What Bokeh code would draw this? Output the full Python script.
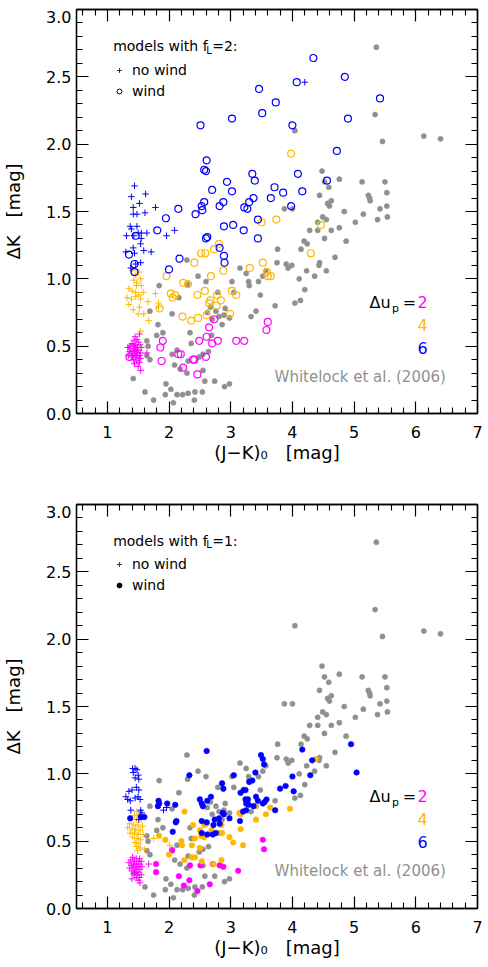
from bokeh.plotting import figure
from bokeh.models import (Range1d, LinearAxis, FixedTicker, Label, Legend, LegendItem,
                          PrintfTickFormatter)
from bokeh.layouts import column
from bokeh.embed import file_html
from bokeh.resources import INLINE

FONT = "DejaVu Sans"

# ---------------- data ----------------
X_MAJOR = [1, 2, 3, 4, 5, 6, 7]
X_MINOR = [0.6, 0.8, 1.2, 1.4, 1.6, 1.8, 2.2, 2.4, 2.6, 2.8, 3.2, 3.4, 3.6, 3.8,
           4.2, 4.4, 4.6, 4.8, 5.2, 5.4, 5.6, 5.8, 6.2, 6.4, 6.6, 6.8]
Y_MAJOR = [0, 0.5, 1.0, 1.5, 2.0, 2.5, 3.0]
Y_MINOR = [0.1, 0.2, 0.3, 0.4, 0.6, 0.7, 0.8, 0.9, 1.1, 1.2, 1.3, 1.4, 1.6, 1.7,
           1.8, 1.9, 2.1, 2.2, 2.3, 2.4, 2.6, 2.7, 2.8, 2.9]

DU_LABELS = ["2", "4", "6"]
DU_COLORS = ["#FF00FF", "#FFB800", "#0000FF"]
GREY = "#909090"

# Whitelock et al. (2006) observations
WHITELOCK = [
    (5.36, 2.72), (5.34, 2.22), (4.04, 2.10), (5.46, 2.02), (6.13, 2.06), (6.40, 2.04),
    (4.48, 1.80), (4.52, 1.72), (4.76, 1.74), (5.13, 1.72), (5.50, 1.72), (4.59, 1.68),
    (4.44, 1.62), (5.23, 1.62), (5.25, 1.60), (5.26, 1.58), (5.53, 1.64), (4.63, 1.58),
    (4.57, 1.56), (4.60, 1.54), (5.53, 1.54), (5.42, 1.52), (3.87, 1.52), (4.00, 1.52),
    (4.84, 1.50), (5.15, 1.48), (4.49, 1.46), (4.55, 1.44), (4.41, 1.42), (5.38, 1.44),
    (5.54, 1.46), (5.02, 1.42), (4.76, 1.38), (4.28, 1.36), (4.41, 1.36), (4.63, 1.36),
    (4.52, 1.30), (4.19, 1.28), (4.24, 1.26), (4.87, 1.28), (3.76, 1.22), (4.14, 1.22),
    (3.75, 1.12), (3.93, 1.08), (3.99, 1.10), (4.43, 1.10), (4.44, 1.12), (4.69, 1.16),
    (4.23, 1.06), (4.55, 1.06), (4.36, 1.02), (3.25, 1.04), (3.29, 0.98), (3.30, 0.95),
    (3.45, 0.98), (3.52, 1.02), (3.57, 1.06), (4.11, 1.00), (4.20, 0.92), (3.48, 0.88),
    (4.04, 0.82), (4.13, 0.84), (3.72, 0.80), (3.41, 0.76), (3.33, 0.72),
    (2.29, 1.14), (2.47, 1.02), (2.60, 0.98), (3.15, 1.08), (3.02, 0.98), (1.84, 0.95),
    (2.30, 0.96), (3.90, 1.11),
    (2.16, 0.86), (1.69, 0.76), (2.05, 0.74), (1.82, 0.66), (1.90, 0.60), (1.80, 0.58),
    (2.34, 0.60), (1.64, 0.54), (1.66, 0.50), (2.36, 0.52), (1.64, 0.43), (1.69, 0.40),
    (2.05, 0.44), (2.13, 0.47), (2.09, 0.36), (2.31, 0.39), (2.49, 0.42), (2.55, 0.44),
    (2.64, 0.46), (2.69, 0.58), (2.86, 0.66), (2.81, 0.72), (2.89, 0.73), (2.67, 0.79),
    (2.76, 0.76), (2.91, 0.78), (2.18, 0.33), (2.29, 0.30), (2.55, 0.32),
    (1.42, 0.26), (1.61, 0.16), (1.75, 0.10), (1.95, 0.22), (2.03, 0.18), (1.94, 0.14),
    (2.13, 0.14), (2.22, 0.14), (2.07, 0.08), (2.31, 0.15), (2.41, 0.10), (2.42, 0.16),
    (2.54, 0.16), (2.58, 0.24), (2.74, 0.24), (2.90, 0.20), (2.98, 0.22),
    (2.79, 0.90), (3.05, 0.90), (2.62, 0.75), (2.70, 0.70), (2.98, 0.71),
]

# ---- models with f_L = 2 (top panel) ----
F2_NOWIND_DU2 = [
    (1.52, 0.59), (1.45, 0.57), (1.48, 0.55), (1.43, 0.54), (1.50, 0.53), (1.40, 0.52),
    (1.46, 0.51), (1.53, 0.51), (1.38, 0.50), (1.44, 0.50), (1.49, 0.49), (1.55, 0.49),
    (1.33, 0.49), (1.42, 0.48), (1.47, 0.47), (1.51, 0.47), (1.36, 0.46), (1.45, 0.46),
    (1.40, 0.45), (1.49, 0.45), (1.54, 0.45), (1.64, 0.45), (1.43, 0.44), (1.47, 0.43),
    (1.34, 0.43), (1.52, 0.43), (1.39, 0.42), (1.45, 0.42), (1.50, 0.41), (1.42, 0.40),
    (1.54, 0.41), (1.47, 0.39), (1.52, 0.38), (1.44, 0.37), (1.50, 0.35), (1.54, 0.32),
]
F2_WIND_DU2 = [
    (1.40, 0.49), (1.36, 0.42), (1.86, 0.49), (1.90, 0.54), (1.88, 0.39), (2.15, 0.44),
    (2.19, 0.44), (2.23, 0.34), (2.39, 0.40), (2.41, 0.40), (2.46, 0.29), (2.60, 0.42),
    (2.49, 0.54), (2.61, 0.57), (2.65, 0.64), (2.73, 0.70), (2.70, 0.52), (2.79, 0.54),
    (3.09, 0.54), (3.22, 0.54), (3.60, 0.68), (3.58, 0.62),
]
F2_NOWIND_DU4 = [
    (1.40, 1.06), (1.46, 1.03), (1.51, 1.05), (1.43, 0.99), (1.48, 0.97), (1.54, 1.00),
    (1.47, 0.95), (1.55, 0.95), (1.35, 0.93), (1.40, 0.91), (1.46, 0.90), (1.51, 0.88),
    (1.58, 0.90), (1.32, 0.86), (1.39, 0.85), (1.46, 0.87), (1.54, 0.85), (1.66, 0.83),
    (1.78, 0.89), (1.83, 0.82), (1.35, 0.81), (1.42, 0.77), (1.52, 0.79), (1.59, 0.74),
    (1.67, 0.69), (1.54, 0.61), (1.50, 0.74), (1.83, 0.79),
]
F2_WIND_DU4 = [
    (3.50, 1.42), (3.74, 1.44), (2.81, 1.26), (2.73, 1.22), (2.52, 1.19), (2.59, 1.19),
    (2.41, 1.12), (2.88, 1.06), (3.31, 1.08), (3.52, 1.12), (3.59, 1.05), (3.60, 1.02),
    (3.65, 1.02), (1.96, 1.02), (2.68, 1.02), (2.23, 0.97), (2.31, 0.96), (3.98, 1.93),
    (4.46, 1.40), (4.30, 1.19), (2.03, 0.89), (2.10, 0.88), (2.06, 0.86), (2.46, 0.88),
    (2.58, 0.91), (2.78, 0.88), (2.67, 0.84), (2.65, 0.82), (2.84, 0.84), (2.77, 0.80),
    (3.02, 0.91), (3.09, 0.88), (1.85, 0.78), (2.22, 0.72), (2.36, 0.69), (2.47, 0.71),
    (2.61, 0.73), (2.99, 0.74),
]
F2_NOWIND_DU6 = [
    (1.44, 1.69), (1.39, 1.61), (1.62, 1.63), (1.52, 1.56), (1.42, 1.53), (1.42, 1.48),
    (1.48, 1.48), (1.61, 1.49), (1.78, 1.53), (1.37, 1.39), (1.39, 1.37), (1.48, 1.39),
    (1.31, 1.32), (1.50, 1.34), (1.55, 1.34), (1.64, 1.34), (1.43, 1.32), (1.96, 1.32),
    (2.09, 1.36), (1.55, 1.30), (1.54, 1.26), (1.42, 1.23), (1.59, 1.21), (1.71, 1.20),
    (1.30, 1.20), (1.44, 1.19), (1.38, 1.08), (1.54, 1.12), (1.46, 1.11), (4.20, 2.46),
]
F2_WIND_DU6 = [
    (2.61, 1.88), (2.57, 1.81), (2.60, 1.80), (3.35, 1.78), (3.39, 1.73), (2.94, 1.72),
    (2.70, 1.66), (3.02, 1.65), (3.71, 1.68), (3.85, 1.64), (3.65, 1.60), (3.37, 1.60),
    (3.30, 1.57), (2.88, 1.57), (2.57, 1.57), (2.53, 1.54), (2.54, 1.51), (2.82, 1.54),
    (3.22, 1.53), (3.27, 1.52), (2.43, 1.48), (2.15, 1.52), (1.95, 1.45), (3.44, 1.44),
    (2.89, 1.39), (3.04, 1.40), (3.21, 1.36), (1.81, 1.36), (1.46, 1.32), (2.62, 1.31),
    (2.60, 1.30), (3.44, 1.30), (2.82, 1.23), (2.89, 1.17), (2.90, 1.12), (2.17, 1.15),
    (1.35, 1.18), (1.44, 1.11), (2.00, 1.07), (1.44, 1.05),
    (2.51, 2.14), (3.02, 2.19), (4.34, 2.64), (4.85, 2.50), (4.07, 2.46), (3.46, 2.41),
    (3.73, 2.31), (5.42, 2.34), (3.51, 2.23), (4.90, 2.19), (4.00, 2.14), (4.72, 1.95),
    (4.09, 1.78), (4.56, 1.73), (4.16, 1.65), (3.98, 1.54),
]

# ---- models with f_L = 1 (bottom panel) ----
F1_NOWIND_DU2 = [
    (1.41, 0.38), (1.47, 0.37), (1.52, 0.37), (1.38, 0.36), (1.44, 0.35), (1.50, 0.35),
    (1.55, 0.35), (1.35, 0.34), (1.42, 0.33), (1.47, 0.33), (1.53, 0.33), (1.67, 0.33),
    (1.39, 0.32), (1.45, 0.31), (1.50, 0.31), (1.56, 0.31), (1.36, 0.30), (1.42, 0.30),
    (1.48, 0.29), (1.53, 0.29), (1.40, 0.28), (1.46, 0.27), (1.51, 0.27), (1.44, 0.26),
    (1.49, 0.25), (1.55, 0.25), (1.47, 0.23), (1.52, 0.23), (1.40, 0.22), (1.50, 0.21),
    (1.53, 0.19),
]
F1_WIND_DU2 = [
    (1.79, 0.33), (1.79, 0.27), (2.05, 0.43), (2.16, 0.24), (2.24, 0.17), (2.33, 0.21),
    (2.34, 0.32), (2.46, 0.13), (2.51, 0.32), (2.66, 0.18), (2.71, 0.33), (2.82, 0.32),
    (2.88, 0.31), (3.12, 0.28), (3.52, 0.51), (3.54, 0.44),
]
F1_NOWIND_DU4 = [
    (1.48, 0.72), (1.52, 0.70), (1.44, 0.69), (1.40, 0.66), (1.47, 0.66), (1.55, 0.66),
    (1.36, 0.63), (1.43, 0.62), (1.50, 0.62), (1.57, 0.61), (1.33, 0.60), (1.40, 0.59),
    (1.46, 0.59), (1.53, 0.58), (1.37, 0.56), (1.44, 0.56), (1.50, 0.55), (1.58, 0.55),
    (1.41, 0.53), (1.48, 0.52), (1.54, 0.51), (1.45, 0.49), (1.51, 0.48), (1.47, 0.46),
    (1.53, 0.45), (1.60, 0.44), (1.49, 0.43), (1.75, 0.52), (2.01, 0.47),
]
F1_WIND_DU4 = [
    (2.25, 0.72), (2.50, 0.58), (2.57, 0.62), (2.61, 0.63), (2.69, 0.58), (2.85, 0.62),
    (2.81, 0.56), (2.86, 0.56), (3.16, 0.70), (3.16, 0.59), (2.98, 0.53), (3.20, 0.47),
    (1.84, 0.54), (1.94, 0.51), (2.00, 0.40), (2.20, 0.50), (2.21, 0.47), (2.42, 0.52),
    (2.37, 0.47), (2.50, 0.45), (2.37, 0.38), (2.42, 0.38), (2.53, 0.35), (2.85, 0.36),
    (2.72, 0.33), (2.39, 0.62), (2.52, 0.54), (2.57, 0.53), (3.04, 0.49), (3.41, 0.66),
    (3.57, 0.70), (3.64, 0.75), (3.14, 0.71), (2.25, 0.36), (4.38, 1.11), (3.96, 0.74),
    (3.39, 0.76),
]
F1_NOWIND_DU6 = [
    (1.41, 1.04), (1.45, 1.04), (1.48, 1.03), (1.42, 1.01), (1.50, 0.99), (1.45, 0.97),
    (1.51, 0.96), (1.35, 0.87), (1.40, 0.88), (1.47, 0.90), (1.51, 0.88), (1.30, 0.83),
    (1.33, 0.81), (1.37, 0.80), (1.45, 0.82), (1.50, 0.83), (1.53, 0.81), (1.38, 0.73),
    (1.54, 0.73), (1.56, 0.71), (1.51, 0.66), (1.91, 0.73), (1.96, 0.75),
]
F1_WIND_DU6 = [
    (2.61, 1.17), (2.33, 0.99), (3.05, 0.99), (1.84, 0.78), (1.83, 0.80), (1.82, 0.76),
    (1.97, 0.78), (2.10, 0.77), (2.50, 0.81), (2.53, 0.78), (2.55, 0.76), (2.62, 0.80),
    (2.68, 0.83), (2.86, 0.93), (2.88, 0.89), (3.16, 0.86), (3.21, 0.88), (3.28, 0.81),
    (3.25, 0.78), (3.30, 0.94), (1.37, 0.67), (1.54, 0.68), (1.60, 0.68), (2.11, 0.64),
    (2.12, 0.65), (2.06, 0.57), (2.53, 0.65), (2.53, 0.56), (2.61, 0.64), (2.74, 0.66),
    (2.81, 0.67), (2.72, 0.62), (2.71, 0.55), (2.62, 0.55), (2.87, 0.71), (2.89, 0.70),
    (2.98, 0.67), (3.15, 0.65), (3.20, 0.72), (2.76, 0.56), (2.82, 0.63),
    (4.16, 1.18), (4.95, 1.22), (5.04, 1.01), (3.49, 1.14), (3.52, 1.11), (3.54, 1.07),
    (3.40, 1.01), (3.35, 0.95), (4.32, 1.10), (4.29, 0.99), (4.00, 0.98), (3.89, 0.91),
    (3.80, 0.89), (4.02, 0.87), (3.24, 0.88), (3.41, 0.83), (3.24, 0.81), (3.58, 0.81),
    (3.55, 0.79), (3.52, 0.78), (3.29, 0.77), (3.37, 0.76), (3.44, 0.80), (3.25, 0.73),
    (3.72, 0.73),
]

PANELS = [
    dict(fl="2", nowind=[F2_NOWIND_DU2, F2_NOWIND_DU4, F2_NOWIND_DU6],
         wind=[F2_WIND_DU2, F2_WIND_DU4, F2_WIND_DU6], filled=False,
         height=480, top=9, bottom=67),
    dict(fl="1", nowind=[F1_NOWIND_DU2, F1_NOWIND_DU4, F1_NOWIND_DU6],
         wind=[F1_WIND_DU2, F1_WIND_DU4, F1_WIND_DU6], filled=True,
         height=480, top=24, bottom=51),
]


def xs(pairs):
    return [a for a, b in pairs]


def ys(pairs):
    return [b for a, b in pairs]


def style_axis(ax, show_labels):
    ax.major_tick_in = 12
    ax.major_tick_out = 0
    ax.minor_tick_in = 6
    ax.minor_tick_out = 0
    ax.axis_line_width = 1.3
    ax.major_tick_line_width = 1.2
    ax.minor_tick_line_width = 1.1
    ax.axis_line_color = "black"
    ax.major_tick_line_color = "black"
    ax.minor_tick_line_color = "black"
    if show_labels:
        ax.major_label_text_font = FONT
        ax.major_label_text_font_size = "16px"
        ax.major_label_text_color = "black"
    else:
        ax.major_label_text_font_size = "0px"
        ax.major_label_text_alpha = 0
        ax.major_label_standoff = 0


def make_panel(cfg):
    H = cfg["height"]
    fh = H - cfg["top"] - cfg["bottom"]
    p = figure(width=488, height=H, x_range=Range1d(0.5, 7), y_range=Range1d(0, 3),
               output_backend="svg", toolbar_location=None,
               min_border_left=72, min_border_right=11,
               min_border_top=cfg["top"], min_border_bottom=cfg["bottom"])
    p.grid.visible = False
    p.outline_line_color = "black"
    p.outline_line_width = 1.3
    p.background_fill_color = "white"
    p.border_fill_color = "white"

    xt = FixedTicker(ticks=X_MAJOR, minor_ticks=X_MINOR)
    yt = FixedTicker(ticks=Y_MAJOR, minor_ticks=Y_MINOR)

    # bottom axis
    xax = p.below[0]
    xax.ticker = xt
    style_axis(xax, True)
    xax.major_label_standoff = 12
    xax.axis_label = "(J\u2212K)\u2080\u2003[mag]"

    # left: tick marks only (zero width) ...
    y_ticks_ax = p.left[0]
    y_ticks_ax.ticker = yt
    style_axis(y_ticks_ax, False)
    # ... plus a label-only axis; its top label sits a little below the 3.0 tick
    lab_pos = Y_MAJOR[:-1] + [Y_MAJOR[-1] - 0.056]
    yax = LinearAxis(ticker=FixedTicker(ticks=lab_pos, minor_ticks=[]),
                     formatter=PrintfTickFormatter(format="%.1f"))
    yax.major_label_overrides = {lab_pos[-1]: "%.1f" % Y_MAJOR[-1]}
    yax.axis_line_color = None
    yax.major_tick_line_color = None
    yax.minor_tick_line_color = None
    yax.major_tick_in = 0
    yax.major_tick_out = 0
    yax.minor_tick_in = 0
    yax.minor_tick_out = 0
    yax.major_label_text_font = FONT
    yax.major_label_text_font_size = "16px"
    yax.major_label_text_color = "black"
    yax.major_label_standoff = 5
    yax.axis_label = "\u0394K\u2003[mag]"
    p.add_layout(yax, "left")

    for ax in (xax, yax):
        ax.axis_label_text_font = FONT
        ax.axis_label_text_font_size = "18px"
        ax.axis_label_text_font_style = "normal"
        ax.axis_label_text_color = "black"
    xax.axis_label_standoff = 1
    yax.axis_label_standoff = 19

    top_ax = LinearAxis(ticker=xt)
    style_axis(top_ax, False)
    p.add_layout(top_ax, "above")
    right_ax = LinearAxis(ticker=yt)
    style_axis(right_ax, False)
    p.add_layout(right_ax, "right")

    # observations
    p.scatter(xs(WHITELOCK), ys(WHITELOCK), marker="circle", size=5.2,
              fill_color=GREY, line_color=GREY, line_width=0.5)

    # models
    for i in range(3):
        c = DU_COLORS[i]
        nw = cfg["nowind"][i]
        wd = cfg["wind"][i]
        p.scatter(xs(nw), ys(nw), marker="cross", size=6.5, line_color=c,
                  line_width=1.0)
        if cfg["filled"]:
            p.scatter(xs(wd), ys(wd), marker="circle", size=5.6, fill_color=c,
                      line_color=c, line_width=0.5)
        else:
            p.scatter(xs(wd), ys(wd), marker="circle", size=7, fill_color=None,
                      line_color=c, line_width=1.2)

    # legend symbols: hidden renderers only used by the legend
    r_cross = p.scatter(xs(WHITELOCK), ys(WHITELOCK), marker="cross", size=6,
                        line_color="#333333", line_width=1, visible=False)
    if cfg["filled"]:
        r_wind = p.scatter(xs(WHITELOCK), ys(WHITELOCK), marker="circle", size=5,
                           fill_color="black", line_color="black", visible=False)
    else:
        r_wind = p.scatter(xs(WHITELOCK), ys(WHITELOCK), marker="circle", size=5,
                           fill_color=None, line_color="black", line_width=1,
                           visible=False)
    leg = Legend(items=[LegendItem(label="no wind", renderers=[r_cross], index=0),
                        LegendItem(label="wind", renderers=[r_wind], index=0)],
                 location=(37, fh - 50.5 - 41), padding=0, margin=0, spacing=1,
                 glyph_width=12, glyph_height=20, label_height=20, label_standoff=7,
                 border_line_color=None, background_fill_alpha=0,
                 label_text_font=FONT, label_text_font_size="14px",
                 label_text_color="black", click_policy="none")
    p.add_layout(leg)

    def DX(px):
        return 0.5 + (px - 72) / 62.3

    def DY(py):  # pixels below frame top
        return 3.0 * (1 - py / fh)

    txt = dict(text_font=FONT, text_baseline="middle")
    p.add_layout(Label(x=DX(109), y=DY(36.5), text="models with f",
                       text_font_size="14px", text_color="black", **txt))
    p.add_layout(Label(x=DX(203), y=DY(40.5), text="L",
                       text_font_size="10px", text_color="black", **txt))
    p.add_layout(Label(x=DX(209), y=DY(36.5), text="=" + cfg["fl"] + ":",
                       text_font_size="14px", text_color="black", **txt))

    p.add_layout(Label(x=DX(368), y=DY(292.5), text="\u0394u",
                       text_font_size="16px", text_color="black", **txt))
    p.add_layout(Label(x=DX(390.5), y=DY(299), text="p",
                       text_font_size="11px", text_color="black", **txt))
    p.add_layout(Label(x=DX(401.5), y=DY(292.5), text="=",
                       text_font_size="16px", text_color="black", **txt))
    for i, py in enumerate([292.5, 315.5, 338.2]):
        p.add_layout(Label(x=DX(421.5), y=DY(py), text=DU_LABELS[i], text_align="center",
                           text_font_size="16px", text_color=DU_COLORS[i], **txt))
    p.add_layout(Label(x=DX(445), y=DY(367), text="Whitelock et al. (2006)",
                       text_align="right", text_font_size="15px", text_color=GREY, **txt))
    return p


p1 = make_panel(PANELS[0])
p2 = make_panel(PANELS[1])
layout = column(p1, p2)

open("out.html", "w").write(file_html(layout, INLINE))
